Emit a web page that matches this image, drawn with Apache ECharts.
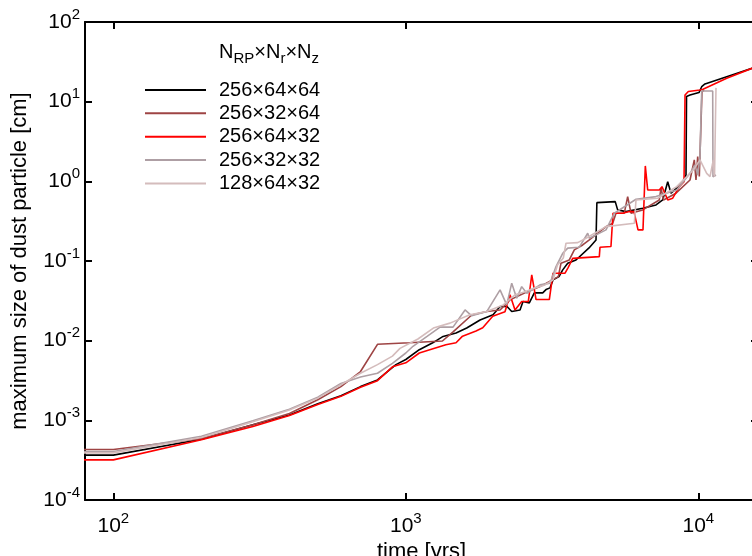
<!DOCTYPE html>
<html><head><meta charset="utf-8">
<script src="https://cdn.jsdelivr.net/npm/echarts@6/dist/echarts.min.js"></script>
<style>html,body{margin:0;padding:0;background:#fff}#c{width:752px;height:556px}</style>
</head><body><div id="c"></div>
<script>
// ---- data (time [yrs], maximum size [cm]) ----
const seriesNames = ['256×64×64', '256×32×64', '256×64×32', '256×32×32', '128×64×32'];
const xRange = [80, 16000];
const yRange = [1e-4, 1e2];

const run256x64x64 = [[70,3.66e-4],[100,3.66e-4],[200,5.8e-4],[300,8.8e-4],[400,1.17e-3],[500,1.61e-3],[600,2.03e-3],[700,2.65e-3],[800,3.22e-3],[925,5.0e-3],[1000,5.8e-3],[1112,7.7e-3],[1236,9.4e-3],[1341,0.0113],[1485,0.0125],[1615,0.0144],[1794,0.0182],[1987,0.0211],[2100,0.0268],[2218,0.0268],[2302,0.0232],[2457,0.0243],[2516,0.031],[2644,0.0298],[2750,0.0398],[2938,0.0398],[3015,0.0438],[3112,0.046],[3186,0.058],[3340,0.0637],[3439,0.0774],[3577,0.0939],[3818,0.103],[4230,0.146],[4470,0.184],[4500,0.54],[5200,0.556],[5300,0.438],[5660,0.417],[6455,0.46],[7170,0.506],[7556,0.584],[7861,0.99],[8068,0.71],[8437,0.82],[8846,0.99],[9077,1.2],[9115,11.6],[9368,12.1],[10055,13.0],[10270,15.4],[10540,16.7],[12506,20.6],[15260,26.2],[16250,28]];

const run256x32x64 = [[70,4.3e-4],[100,4.3e-4],[200,5.9e-4],[300,8.8e-4],[400,1.22e-3],[500,1.81e-3],[600,2.65e-3],[700,4.1e-3],[800,9.0e-3],[1028,9.4e-3],[1334,9.9e-3],[1454,0.013],[1680,0.021],[1891,0.0232],[2100,0.0243],[2271,0.0325],[2600,0.041],[2876,0.0477],[3322,0.0637],[3393,0.094],[3622,0.103],[3768,0.138],[4025,0.159],[4240,0.184],[4835,0.27],[5098,0.298],[5232,0.398],[5584,0.398],[5735,0.643],[5886,0.398],[6455,0.438],[7356,0.584],[7456,0.82],[7603,0.584],[8391,0.71],[9368,1.04],[9690,1.86],[9820,1.04],[9953,2.04],[10080,1.15],[10214,1.17],[10294,13.2],[10459,14.0]];

const run256x64x32 = [[70,3.19e-4],[100,3.19e-4],[200,5.7e-4],[300,8.35e-4],[400,1.15e-3],[500,1.58e-3],[600,2.0e-3],[700,2.6e-3],[800,3.15e-3],[900,4.7e-3],[1000,5.27e-3],[1112,7.0e-3],[1371,8.9e-3],[1485,9.4e-3],[1563,0.0114],[1738,0.0132],[1832,0.0145],[1982,0.0203],[2183,0.023],[2271,0.0376],[2362,0.0243],[2490,0.031],[2623,0.031],[2695,0.067],[2788,0.0328],[3095,0.0328],[3186,0.0703],[3502,0.0703],[3585,0.082],[3720,0.108],[4587,0.1135],[4612,0.149],[5028,0.152],[5109,0.398],[5514,0.398],[5809,0.417],[6029,0.417],[6221,0.246],[6470,0.246],[6589,1.56],[6714,0.78],[7356,0.78],[7513,0.858],[7861,0.584],[8176,0.614],[8610,0.858],[8937,0.99],[9008,12.1],[9245,13.4],[10134,14.0],[10377,14.3],[12506,19.7],[15260,26.2],[16250,28]];

const run256x32x32 = [[70,4.06e-4],[100,4.06e-4],[200,6.3e-4],[300,9.9e-4],[400,1.38e-3],[500,1.95e-3],[600,2.9e-3],[700,3.5e-3],[800,3.9e-3],[900,5.2e-3],[1000,7.0e-3],[1058,8.5e-3],[1182,0.0113],[1309,0.0148],[1450,0.0148],[1594,0.0243],[1680,0.0205],[1891,0.0232],[2100,0.0434],[2213,0.0281],[2302,0.0527],[2394,0.0341],[2490,0.0477],[2591,0.0394],[2876,0.0501],[3112,0.0527],[3262,0.0851],[3439,0.125],[3577,0.145],[3920,0.149],[4187,0.223],[4240,0.193],[4835,0.246],[5162,0.398],[6124,0.596],[7168,0.643],[8437,0.78],[8887,0.99],[9368,1.26],[9743,1.61],[9950,1.2],[10134,2.04],[10270,13.6],[11200,13.6],[11225,1.14],[11495,1.2]];

const run128x64x32 = [[70,3.9e-4],[100,3.9e-4],[200,6.1e-4],[300,9.6e-4],[400,1.35e-3],[500,1.9e-3],[600,2.8e-3],[700,3.9e-3],[800,5.0e-3],[900,6.4e-3],[955,8.0e-3],[1100,0.0105],[1242,0.0144],[1416,0.0166],[1655,0.0211],[1891,0.0232],[2154,0.0281],[2362,0.0376],[2556,0.041],[2765,0.046],[2991,0.0501],[3186,0.0579],[3300,0.089],[3455,0.109],[3529,0.167],[3870,0.170],[4131,0.193],[4835,0.270],[6043,0.298],[6124,0.584],[7264,0.614],[8437,0.858],[9127,1.146],[9614,1.39],[10134,1.86],[10683,1.26],[10965,1.146],[11254,1.86],[11362,1.146],[11495,14.9]];

const seriesData = [run256x64x64, run256x32x64, run256x64x32, run256x32x32, run128x64x32];
const colors = ['#000000', '#9e4444', '#ff0000', '#ae9fa4', '#d4bcbc'];

// ---- chart ----
const FONT = 'Liberation Sans';
const chart = echarts.init(document.getElementById('c'), null, {renderer: 'canvas'});

function powLabel(v) {
  const e = Math.log10(v);
  const r = Math.round(e);
  if (Math.abs(e - r) > 1e-6) return '';
  return '{b|10}{s|' + r + '}';
}
function labelRich() {
  return {
    b: {fontSize: 21, lineHeight: 30, fontFamily: FONT, color: '#000'},
    s: {fontSize: 15, lineHeight: 15, verticalAlign: 'top', fontFamily: FONT, color: '#000'}
  };
}
function axLine() { return {show: true, onZero: false, lineStyle: {color: '#000', width: 2}}; }
function axTick() { return {show: true, inside: true, length: 7, lineStyle: {color: '#000', width: 2}}; }

const option = {
  animation: false,
  backgroundColor: '#fff',
  grid: {left: 85, right: -6, top: 22, bottom: 56, containLabel: false, outerBoundsMode: 'none'},
  xAxis: [
    {type: 'log', min: xRange[0], max: xRange[1], position: 'bottom',
     axisLine: axLine(), axisTick: axTick(), minorTick: {show: false}, splitLine: {show: false},
     axisLabel: {formatter: powLabel, margin: 11, rich: labelRich()},
     name: 'time [yrs]', nameLocation: 'middle', nameGap: 38,
     nameTextStyle: {fontSize: 22, fontFamily: FONT, color: '#000'}},
    {type: 'log', min: xRange[0], max: xRange[1], position: 'top',
     axisLine: axLine(), axisTick: axTick(), splitLine: {show: false}, axisLabel: {show: false}}
  ],
  yAxis: [
    {type: 'log', min: yRange[0], max: yRange[1], position: 'left',
     axisLine: axLine(), axisTick: axTick(), minorTick: {show: false}, splitLine: {show: false},
     axisLabel: {formatter: powLabel, margin: 5, rich: labelRich()},
     name: 'maximum size of dust particle [cm]', nameLocation: 'middle', nameGap: 54, nameRotate: 90,
     nameTextStyle: {fontSize: 22, fontFamily: FONT, color: '#000'}},
    {type: 'log', min: yRange[0], max: yRange[1], position: 'right',
     axisLine: axLine(), axisTick: axTick(), splitLine: {show: false}, axisLabel: {show: false}}
  ],
  legend: {
    orient: 'vertical', left: 145, top: 80, padding: 0,
    icon: 'rect', itemWidth: 61, itemHeight: 2, itemGap: 3.35,
    data: seriesNames,
    textStyle: {fontSize: 20, lineHeight: 19, fontFamily: FONT, color: '#000', padding: [0, 0, 0, 8]}
  },
  graphic: [{
    type: 'text', left: 219, top: 42,
    style: {
      text: '{n|N}{s|RP}{n|×N}{s|r}{n|×N}{s|z}',
      rich: {
        n: {fontSize: 20, lineHeight: 28, fontFamily: FONT, fill: '#000'},
        s: {fontSize: 15, lineHeight: 15, verticalAlign: 'bottom', fontFamily: FONT, fill: '#000'}
      }
    }
  }],
  series: seriesNames.map((name, i) => ({
    name, type: 'line', data: seriesData[i], xAxisIndex: 0, yAxisIndex: 0,
    symbol: 'none', showSymbol: false, clip: true,
    lineStyle: {color: colors[i], width: 1.6},
    itemStyle: {color: colors[i]}
  }))
};
chart.setOption(option);
</script>
</body></html>
